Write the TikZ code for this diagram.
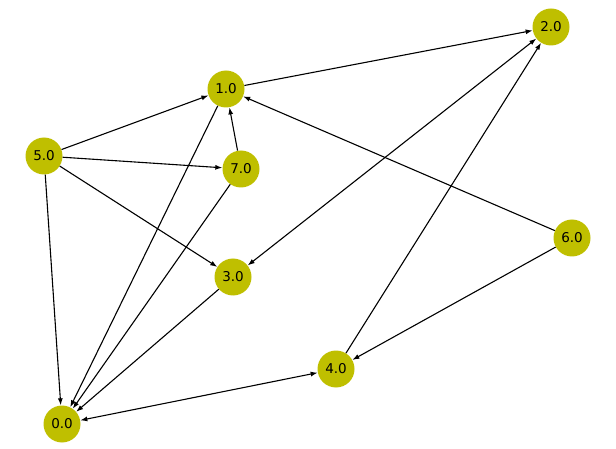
\documentclass[tikz,border=0pt]{standalone}
\usepackage{fontspec}
\setmainfont{DejaVu Sans}
\usetikzlibrary{arrows.meta}
\definecolor{nodeolive}{HTML}{BFBF00}
\begin{document}
\begin{tikzpicture}[x=1pt,y=-1pt,
  vtx/.style={circle,fill=nodeolive,draw=none,minimum size=37pt,inner sep=0pt,font=\fontsize{13.5}{15}\selectfont},
  edge/.style={draw=black,line width=1.1pt,-{Latex[length=7pt,width=5pt]}},
  bedge/.style={draw=black,line width=1.1pt,{Latex[length=7pt,width=5pt]}-{Latex[length=7pt,width=5pt]}}]
\useasboundingbox (0,0) rectangle (616,449);
\node[vtx] (n2) at (551,27) {2.0};
\node[vtx] (n1) at (226,89) {1.0};
\node[vtx] (n5) at (44,156) {5.0};
\node[vtx] (n7) at (241,169) {7.0};
\node[vtx] (n6) at (572,238) {6.0};
\node[vtx] (n3) at (233,277) {3.0};
\node[vtx] (n4) at (336,369) {4.0};
\node[vtx] (n0) at (62,424) {0.0};
\path[edge] (n1) -- (n2);
\path[edge] (n5) -- (n1);
\path[edge] (n5) -- (n7);
\path[edge] (n5) -- (n3);
\path[edge] (n5) -- (n0);
\path[edge] (n7) -- (n1);
\path[edge] (n7) -- (n0);
\path[edge] (n1) -- (n0);
\path[edge] (n3) -- (n0);
\path[edge] (n6) -- (n1);
\path[edge] (n6) -- (n4);
\path[edge] (n4) -- (n2);
\path[bedge] (n2) -- (n3);
\path[bedge] (n0) -- (n4);
\end{tikzpicture}
\end{document}
